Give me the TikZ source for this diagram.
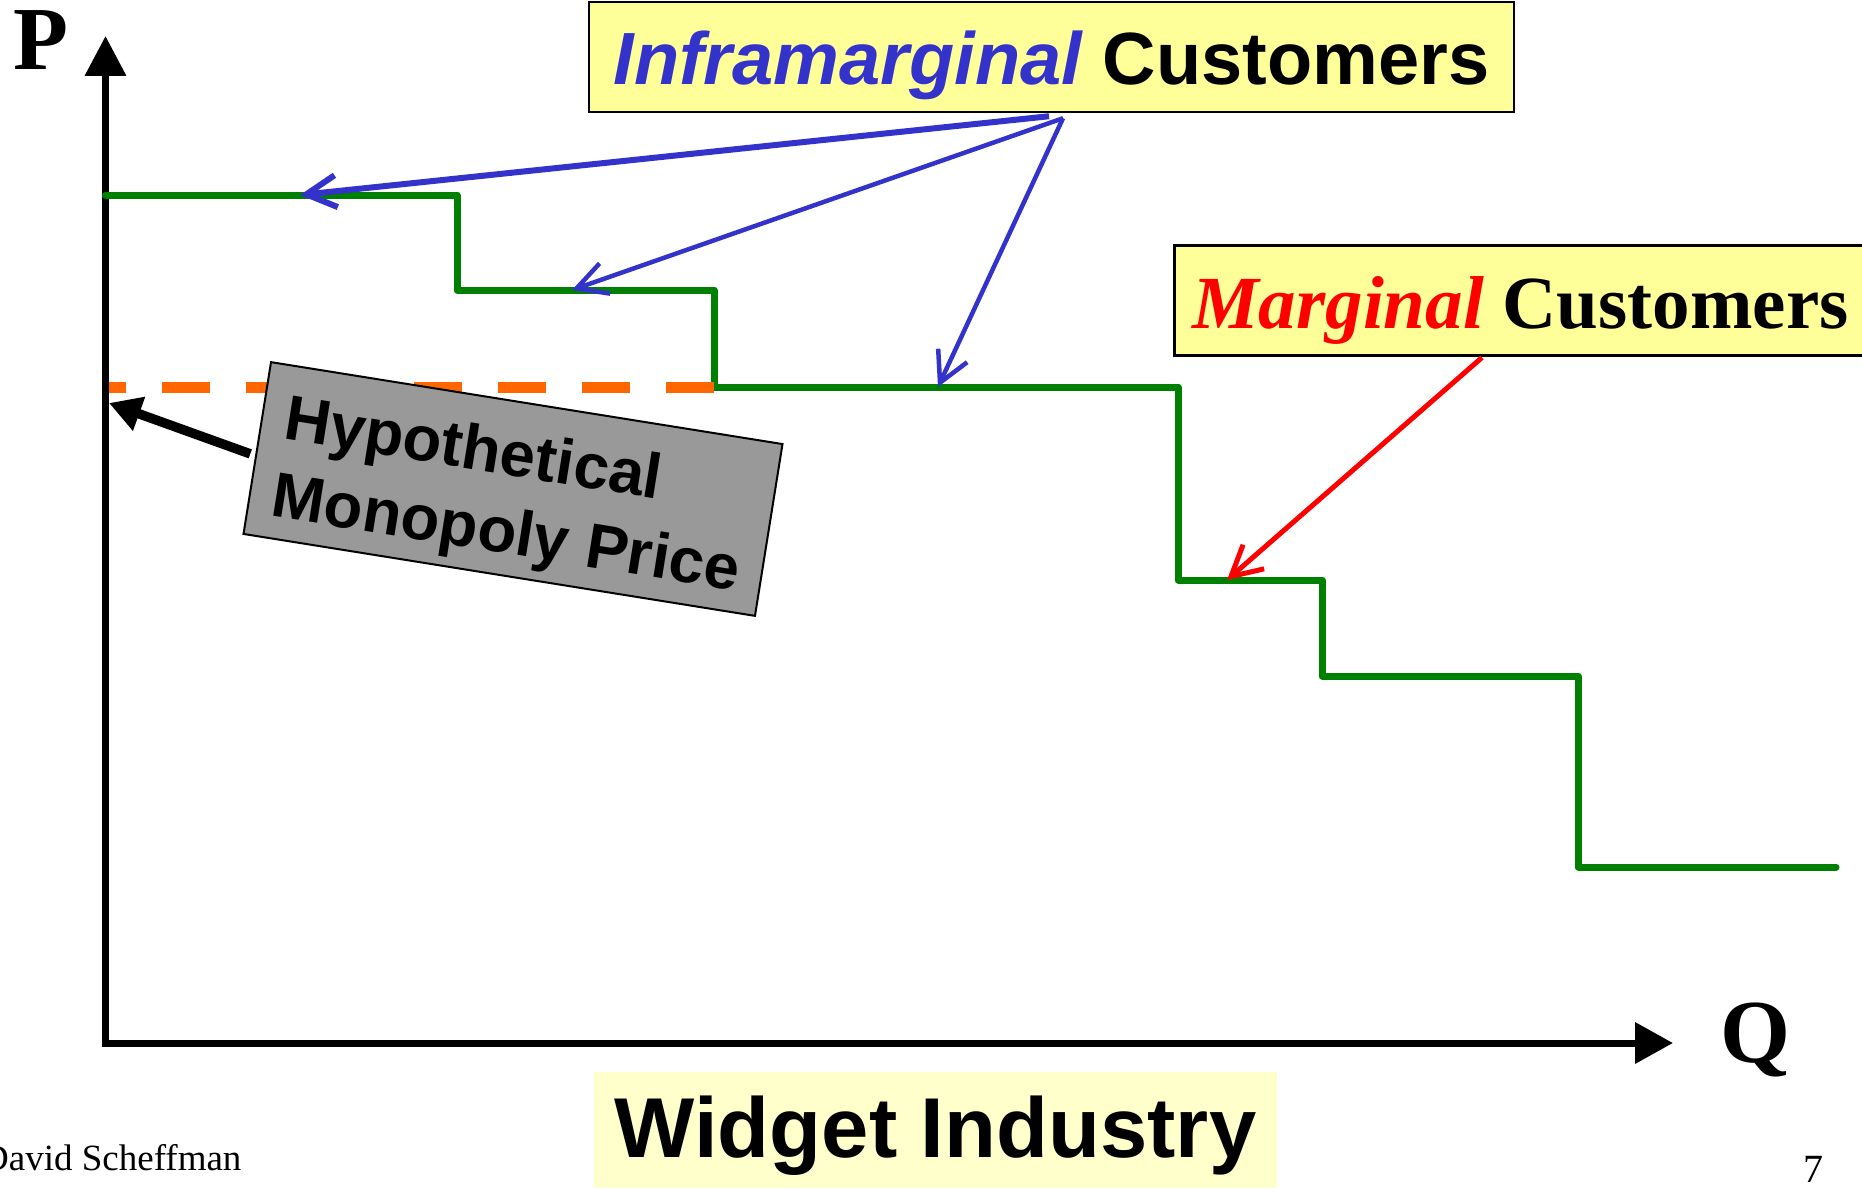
\documentclass[tikz,border=0pt]{standalone}
\usepackage{fontspec}
\setmainfont{Liberation Serif}
\newfontfamily\arialf{Liberation Sans}
\usetikzlibrary{arrows.meta,calc}
\pgfdeclarelayer{behind}
\pgfsetlayers{behind,main}

\definecolor{infrablue}{HTML}{3333CC}
\definecolor{stepgreen}{HTML}{008000}
\definecolor{monoorange}{HTML}{FF6600}
\definecolor{labelyellow}{HTML}{FFFF99}
\definecolor{titleyellow}{HTML}{FFFFCC}
\definecolor{boxgray}{HTML}{999999}

\begin{document}
\begin{tikzpicture}[x=1pt,y=-1pt,
  every node/.style={inner sep=0pt},
  axisline/.style={line width=7pt, line join=miter},
  stairs/.style={stepgreen, line width=7pt, line join=round, line cap=round},
  monodash/.style={monoorange, line width=11pt, dash pattern=on 48pt off 36pt},
  vbarb/.style={-{Straight Barb[length=30pt,width=32pt]}},
  infraarrow/.style={infrablue, line width=4.5pt, vbarb},
  callout/.style={draw=black, line width=2.5pt, fill=labelyellow,
    minimum height=110pt, text height=56pt, text depth=0pt},
]
\useasboundingbox (0,0) rectangle (1862,1188);

% axes
\coordinate (origin) at (105.5,1043);
\coordinate (ptip) at (105.5,36);
\coordinate (qtip) at (1673,1043);
\draw[axisline, {Triangle[length=40pt,width=40pt]}-{Triangle[length=38pt,width=40pt]}]
  (ptip) -- (origin) -- (qtip);
\node[anchor=base, font=\bfseries\fontsize{90}{90}\selectfont] (plabel) at (40.5,70) {P};
\node[anchor=base, font=\bfseries\fontsize{90}{90}\selectfont] (qlabel) at (1755,1062) {Q};

% stepped demand curve
\draw[stairs] (105.5,195) -- (457,195) -- (457,290) -- (714,290) -- (714,387)
  -- (1178,387) -- (1178,580) -- (1322,580) -- (1322,676) -- (1578,676)
  -- (1578,867) -- (1836,867);
\coordinate (s1) at (300,195);
\coordinate (s2) at (572,290);
\coordinate (s3) at (938,387);
\coordinate (s5) at (1227,580);

% monopoly price level
\coordinate (monocorner) at (714,387);
\coordinate (monoaxis) at (109,387);
\draw[monodash] (monocorner) -- (monoaxis);

% hypothetical monopoly price label
\coordinate (mpaxis) at (109,403);
\node[draw=black, line width=2pt, fill=boxgray, rotate=-9.1,
      font=\arialf\bfseries\fontsize{63.5}{78}\selectfont] (hmp) at (513,489)
  {\begin{minipage}[t][174pt][t]{518pt}\vspace*{28pt}\raggedright\leftskip=23pt
   Hypothetical\\Monopoly Price\end{minipage}};
\begin{pgfonlayer}{behind}
\draw[line width=9.5pt, -{Triangle[length=32pt,width=34pt]}]
  ($(hmp.west)+(-6,6)$) -- (mpaxis);
\end{pgfonlayer}

% customer labels
\node[callout, minimum width=925pt, font=\arialf\bfseries\fontsize{74}{80}\selectfont]
  (infra) at (1051.5,57) {\textcolor{infrablue}{\itshape Inframarginal} Customers};
\node[callout, anchor=north west, inner xsep=18pt, font=\bfseries\fontsize{75}{80}\selectfont]
  (marg) at (1173,244) {\textcolor{red}{\itshape Marginal} Customers\hspace*{40pt}};

\draw[infraarrow, line width=6pt] ($(infra.south)+(-2.5,3)$) -- (s1);
\draw[infraarrow] ($(infra.south)+(11.5,5)$) -- (s2);
\draw[infraarrow] ($(infra.south)+(11.5,5)$) -- (s3);
\draw[red, line width=5pt, vbarb] ($(marg.south west)+(309,1)$) -- (s5);

% title and footer
\node[fill=titleyellow, minimum width=683pt, minimum height=116pt, text height=54pt,
      text depth=0pt, font=\arialf\bfseries\fontsize{85}{90}\selectfont]
  (industry) at (935.5,1130) {Widget Industry};
\node[anchor=base west, font=\fontsize{37}{40}\selectfont] (author) at (-18,1170) {David Scheffman};
\node[anchor=base, font=\fontsize{40}{44}\selectfont] (pageno) at (1813,1182) {7};
\end{tikzpicture}
\end{document}
